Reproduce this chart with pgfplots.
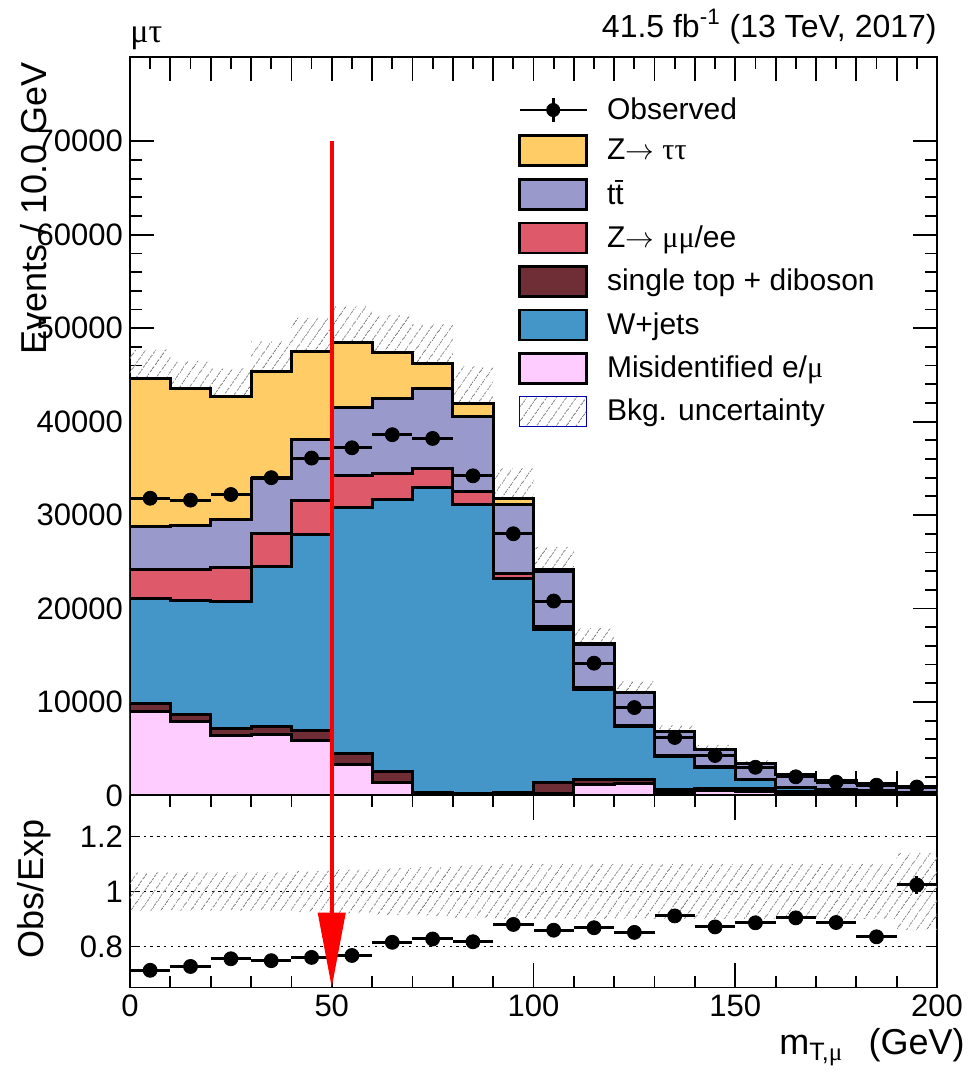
\documentclass[border=0pt]{standalone}
\usepackage{fontspec}
\setmainfont{Liberation Sans}
\newfontfamily\greekfont{Liberation Serif}
\usepackage{graphicx}
\usepackage{pgfplots}
\pgfplotsset{compat=1.18}
\usepackage{pgfplotstable}
\usepgfplotslibrary{fillbetween}
\usetikzlibrary{patterns.meta,arrows.meta}

\definecolor{zttc}{HTML}{FFCC66}
\definecolor{ttc}{HTML}{9999CC}
\definecolor{zllc}{HTML}{DE5A6A}
\definecolor{stc}{HTML}{6F2D35}
\definecolor{wjc}{HTML}{4496C8}
\definecolor{misc}{HTML}{FFCCFF}

% cumulative stack boundaries per 10 GeV bin (low edge), last row closes the final bin
% mis < st < wj < zll < tt < ztt (= total background)
\pgfplotstableread{
lo  mis   st    wj     zll    tt     ztt    bhi    blo    rhi    rlo
0   9000  9850  21100  24200  28800  44600  47700  41500  1.070  0.930
10  7950  8700  20900  24200  28900  43500  46500  40500  1.070  0.930
20  6400  7200  20800  24400  29500  42700  45700  39700  1.070  0.930
30  6500  7400  24500  28000  33900  45400  48600  42200  1.070  0.930
40  5900  6900  27900  31600  38100  47500  51100  43900  1.075  0.925
50  3300  4450  30800  34200  41500  48500  52400  44600  1.080  0.920
60  1350  2600  31700  34400  42500  47400  51400  43400  1.085  0.915
70  100   350   32900  35000  43500  46200  50400  42000  1.090  0.910
80  50    150   31100  32500  40600  41900  45900  37900  1.095  0.905
90  100   300   23200  23800  31100  31800  35000  28600  1.100  0.900
100 250   1350  17800  18100  24000  24200  26600  21800  1.100  0.900
110 1200  1700  11300  11500  16200  16300  17900  14700  1.100  0.900
120 1250  1750  7400   7450   11000  11050  12200  9900   1.100  0.900
130 350   600   4200   4250   6800   6800   7500   6100   1.100  0.900
140 500   750   3000   3050   4900   4900   5400   4400   1.100  0.900
150 450   700   1700   1750   3400   3400   3740   3060   1.100  0.900
160 300   400   800    850    2200   2200   2420   1980   1.100  0.900
170 200   300   550    600    1600   1600   1760   1440   1.100  0.900
180 150   250   450    500    1300   1300   1430   1170   1.100  0.900
190 100   200   300    350    880    880    1000   760    1.140  0.860
200 100   200   300    350    880    880    1000   760    1.140  0.860
}\hist

% observed events and ratio to the expectation, at bin centres
\pgfplotstableread{
xc   data   derr  ratio  rerr
5    31800  178   0.713  0.004
15   31600  178   0.727  0.004
25   32200  179   0.755  0.004
35   34000  184   0.748  0.004
45   36100  190   0.760  0.004
55   37200  193   0.767  0.004
65   38600  196   0.815  0.004
75   38200  195   0.827  0.004
85   34200  185   0.817  0.004
95   28000  167   0.880  0.005
105  20800  144   0.859  0.006
115  14150  119   0.868  0.007
125  9400   97    0.851  0.009
135  6200   79    0.911  0.012
145  4270   65    0.871  0.013
155  3010   55    0.886  0.016
165  1990   45    0.904  0.020
175  1420   38    0.887  0.024
185  1090   33    0.835  0.025
195  900    30    1.024  0.034
}\pts

\tikzset{hatch/.style={pattern={Lines[angle=55,distance=4pt,line width=0.45pt]}, pattern color=black!50}}

\pgfplotsset{
  cmsaxis/.style={
    scale only axis, width=403.5pt,
    xmin=0, xmax=200,
    axis line style={line width=0.9pt},
    every tick/.style={black, line width=0.9pt},
    tick align=inside,
    tick label style={font=\fontsize{15.5}{18}\selectfont},
    /pgf/number format/assume math mode=true,
    /pgf/number format/1000 sep={},
    scaled ticks=false,
    label style={font=\fontsize{18}{21}\selectfont, inner sep=0pt},
  },
  stackfill/.style={const plot, draw=black, line width=1.5pt, forget plot},
  swatch/.style={legend image code/.code={\draw[fill=#1, draw=black, line width=1.3pt] (0pt,-7.5pt) rectangle (33.5pt,7.5pt);}},
}

\begin{document}
\begin{tikzpicture}

\begin{axis}[cmsaxis, name=top,
  height=369.1pt, ymin=0, ymax=79000,
  xtick={0,50,...,200}, xticklabels={},
  extra x ticks={10,20,30,40,60,70,80,90,110,120,130,140,160,170,180,190},
  extra x tick labels={},
  minor x tick num=9,
  ytick={0,10000,...,70000}, minor y tick num=4,
  major tick length=12pt, minor tick length=6pt,
  ylabel={Events / 10.0 GeV},
  ylabel style={at={(axis description cs:-0.1029,0.993)}, anchor=base east},
  legend cell align=left,
  legend style={at={(axis description cs:0.4808,0.947)}, anchor=north west,
    draw=none, fill=none, inner sep=0pt, row sep=5.5pt, column sep=9.5pt,
    font=\fontsize{15}{18}\selectfont, nodes={inner sep=0pt}},
  after end axis/.code={
    \node[anchor=base west, inner sep=0pt, font=\fontsize{17}{20}\selectfont\greekfont]
      at (axis description cs:0,1.0203) {μτ};
    \node[anchor=base east, inner sep=0pt, font=\fontsize{16}{19}\selectfont]
      at (axis description cs:1,1.0271)
      {41.5 fb\textsuperscript{-1} (13 TeV, 2017)};
  },
]
% legend
\addlegendimage{legend image code/.code={
  \draw[line width=1.3pt] (0pt,0pt) -- (33.5pt,0pt);
  \draw[line width=1.3pt] (16.75pt,-6pt) -- (16.75pt,6pt);
  \fill (16.75pt,0pt) circle (3.3pt);}}
\addlegendentry{Observed}
\addlegendimage{swatch=zttc}
\addlegendentry{Z$\rightarrow$ {\greekfont ττ}}
\addlegendimage{swatch=ttc}
\addlegendentry{t\={t}}
\addlegendimage{swatch=zllc}
\addlegendentry{Z$\rightarrow$ {\greekfont μμ}/ee}
\addlegendimage{swatch=stc}
\addlegendentry{single top + diboson}
\addlegendimage{swatch=wjc}
\addlegendentry{W+jets}
\addlegendimage{swatch=misc}
\addlegendentry{Misidentified e/{\greekfont μ}}
\addlegendimage{legend image code/.code={
  \draw[hatch, draw=blue!70!black, line width=0.6pt] (0pt,-7.5pt) rectangle (33.5pt,7.5pt);}}
\addlegendentry{Bkg. uncertainty}

% stacked backgrounds, painted from the total down
\addplot[stackfill, fill=zttc] table[x=lo, y=ztt]{\hist} \closedcycle;
\addplot[stackfill, fill=ttc]  table[x=lo, y=tt]{\hist} \closedcycle;
\addplot[stackfill, fill=zllc] table[x=lo, y=zll]{\hist} \closedcycle;
\addplot[stackfill, fill=wjc]  table[x=lo, y=wj]{\hist} \closedcycle;
\addplot[stackfill, fill=stc]  table[x=lo, y=st]{\hist} \closedcycle;
\addplot[stackfill, fill=misc] table[x=lo, y=mis]{\hist} \closedcycle;

% background uncertainty band
\addplot[name path=bh, const plot, draw=none, forget plot] table[x=lo, y=bhi]{\hist};
\addplot[name path=bl, const plot, draw=none, forget plot] table[x=lo, y=blo]{\hist};
\addplot[hatch, draw=none, forget plot] fill between[of=bh and bl];

% observed
\addplot[only marks, mark=*, mark size=3.5pt, black, forget plot,
  error bars/.cd, x dir=both, x fixed=5, y dir=both, y explicit,
  error bar style={line width=1.5pt}, error mark=none]
  table[x=xc, y=data, y error=derr]{\pts};

\coordinate (arrtop) at (axis cs:50,70000);
\end{axis}

\begin{axis}[cmsaxis, name=bot,
  at={(top.south west)}, anchor=north west,
  height=96.1pt, ymin=0.65, ymax=1.35,
  xtick={0,50,...,200}, minor x tick num=4,
  major tick length=12.5pt, minor tick length=6pt,
  ytick={0.8,1,1.2},
  ytick style={/pgfplots/major tick length=5pt},
  ymajorgrids,
  major grid style={black, line width=0.9pt, dash pattern=on 1.2pt off 2.2pt},
  xlabel={m\textsubscript{T,{\greekfont μ}}\hspace{0.7em}(GeV)},
  xlabel style={at={(axis description cs:1.0347,-0.3486)}, anchor=base east},
  ylabel={Obs/Exp},
  ylabel style={at={(axis description cs:-0.1078,0.513)}, anchor=base},
]
\addplot[name path=rh, const plot, draw=none] table[x=lo, y=rhi]{\hist};
\addplot[name path=rl, const plot, draw=none] table[x=lo, y=rlo]{\hist};
\addplot[hatch, draw=none] fill between[of=rh and rl];

\addplot[only marks, mark=*, mark size=3.5pt, black,
  error bars/.cd, x dir=both, x fixed=5, y dir=both, y explicit,
  error bar style={line width=1.5pt}, error mark=none]
  table[x=xc, y=ratio, y error=rerr]{\pts};

\coordinate (arrbot) at (axis cs:50,0.65);
\end{axis}

% cut marker at 50 GeV
\draw[red, line width=2pt, -{Triangle[width=13.5pt,length=37.5pt]}] (arrtop) -- (arrbot);

% page frame
\path (-65pt,-142.8pt) rectangle (419pt,397.7pt);
\end{tikzpicture}
\end{document}
